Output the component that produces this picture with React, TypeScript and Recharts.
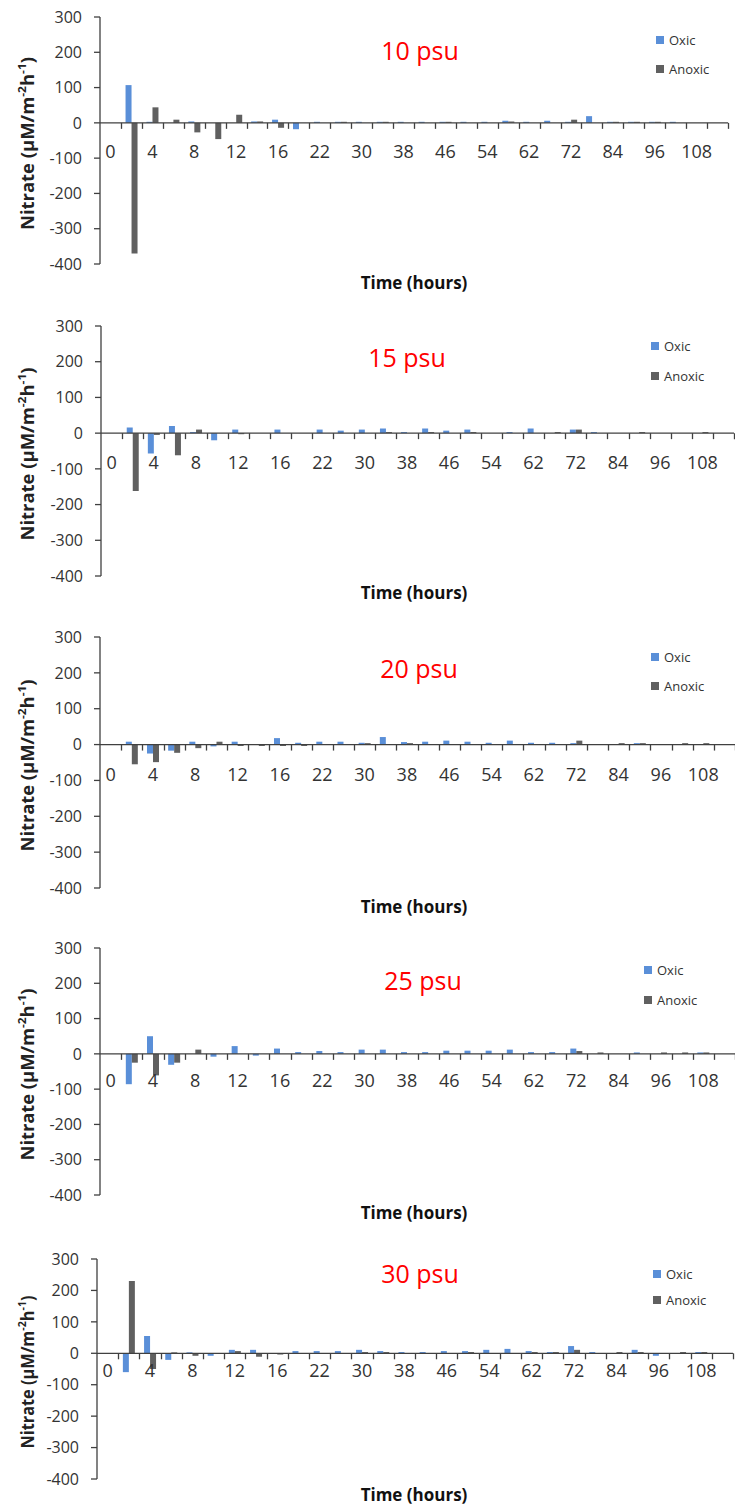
import React from "react";
import { Bar, BarChart, Legend, ReferenceLine, XAxis, YAxis } from "recharts";

// sampling times (only every other one is labelled on the axis)
const hours = [
  "0", "2", "4", "6", "8", "10", "12", "14", "16", "19", "22", "26", "30", "34", "38",
  "42", "46", "50", "54", "58", "62", "67", "72", "78", "84", "90", "96", "102", "108", "120",
];

const yTicks = [-400, -300, -200, -100, 0, 100, 200, 300];
const seriesNames = ["Oxic", "Anoxic"];

// nitrate flux, µM/m-2h-1
const oxic10 = [0, 107, 3, 0, 4, 0, 0, 4, 9, -18, 3, 3, 3, 3, 3, 3, 3, 3, 3, 6, 3, 6, 3, 19, 3, 3, 3, 3, 0, 0];
const anoxic10 = [0, -370, 44, 9, -27, -46, 23, 4, -14, 0, 0, 3, 0, 3, 0, 0, 3, 0, 0, 4, 0, 0, 9, 0, 3, 3, 3, 0, 0, 0];

const oxic15 = [0, 16, -57, 20, 3, -20, 10, 0, 10, 0, 10, 7, 10, 13, 3, 13, 7, 10, 0, 3, 13, 0, 10, 3, 0, 0, 0, 0, 0, 0];
const anoxic15 = [0, -162, -5, -62, 10, 0, -3, 0, 0, 0, 0, 0, 0, 3, 0, 3, 0, 3, 0, 0, 0, 3, 10, 0, 0, 3, 0, 0, 3, 0];

const oxic20 = [0, 8, -25, -17, 8, -5, 8, 0, 18, 5, 8, 8, 5, 21, 7, 8, 11, 8, 5, 11, 5, 5, 4, 0, 0, 4, 0, 0, 0, 0];
const anoxic20 = [0, -55, -49, -23, -10, 8, -4, -4, -4, -4, 0, 0, 4, 0, 4, 0, 0, 0, 0, 0, 0, 0, 11, 0, 4, 4, 0, 4, 4, 0];

const oxic25 = [0, -86, 50, -31, 0, -8, 22, -5, 15, 5, 8, 5, 12, 12, 5, 5, 9, 9, 9, 12, 5, 5, 15, 0, 0, 4, 0, 0, 4, 0];
const anoxic25 = [0, -25, -61, -25, 12, 0, 0, 0, 0, 0, 0, 0, 0, 0, 0, 0, 0, 0, 0, 0, 0, 0, 8, 4, 0, 0, 4, 4, 4, 0];

const oxic30 = [0, -60, 55, -21, 3, -8, 11, 11, 0, 7, 7, 7, 11, 7, 4, 4, 7, 7, 11, 14, 7, 4, 23, 4, 0, 11, -8, 0, 4, 0];
const anoxic30 = [0, 230, -50, 3, -8, 0, 7, -11, -4, 0, 0, 0, 4, 4, 0, 0, 0, 4, 0, 0, 4, 4, 11, 0, 4, 4, 0, 4, 4, 0];

const FONT = "'Open Sans', 'Liberation Sans', sans-serif";
const OXIC = "#5A8FD8";
const ANOXIC = "#606060";
const AXIS = "#404040";

const panels = [
  { title: "10 psu", oxic: oxic10, anoxic: anoxic10, top: 0, h: 305, plotTop: 17, plotH: 247, left: 100, right: 728, titleX: 420, titleY: 50, xTitleY: 282, legX: 656, legY: 40, legGap: 29, labelDy: 28, yLen: 173 },
  { title: "15 psu", oxic: oxic15, anoxic: anoxic15, top: 305, h: 310, plotTop: 21, plotH: 250, left: 101, right: 734, titleX: 407, titleY: 52, xTitleY: 287, legX: 651, legY: 41, legGap: 30, labelDy: 29, yLen: 173 },
  { title: "20 psu", oxic: oxic20, anoxic: anoxic20, top: 615, h: 310, plotTop: 22, plotH: 251, left: 100, right: 735, titleX: 419, titleY: 53, xTitleY: 291, legX: 651, legY: 42, legGap: 29, labelDy: 29, yLen: 172 },
  { title: "25 psu", oxic: oxic25, anoxic: anoxic25, top: 925, h: 310, plotTop: 23, plotH: 247, left: 100, right: 735, titleX: 423, titleY: 55, xTitleY: 287, legX: 644, legY: 45, legGap: 30, labelDy: 26, yLen: 172 },
  { title: "30 psu", oxic: oxic30, anoxic: anoxic30, top: 1235, h: 271, plotTop: 24, plotH: 220, left: 97, right: 733, titleX: 420, titleY: 38, xTitleY: 259, legX: 653, legY: 39, legGap: 26, labelDy: 17, yLen: 153 },
];

// x ticks sit on the zero line: tick marks at category boundaries, labels every second category
function TimeTick(props: any) {
  const { x, index, payload, zeroY, band, labelDy } = props;
  const tx = Math.round(x + band / 2) + 0.5;
  return (
    <g>
      <line x1={tx} x2={tx} y1={zeroY} y2={zeroY + 6} stroke={AXIS} strokeWidth={1.3} />
      {index % 2 === 0 && (
        <text x={x} y={zeroY + labelDy} textAnchor="middle" dominantBaseline="central" fontSize={18} fontFamily={FONT} fill="#333">
          {payload.value}
        </text>
      )}
    </g>
  );
}

function YTitle(props: any) {
  const { viewBox, len } = props;
  const cx = 27;
  const cy = viewBox.y + viewBox.height / 2 + 3;
  return (
    <text
      x={cx}
      y={cy}
      transform={`rotate(-90 ${cx} ${cy})`}
      textAnchor="middle"
      dominantBaseline="central"
      fontFamily={FONT}
      fontWeight={700}
      fontSize={17}
      fill="#222"
      textLength={len}
      lengthAdjust="spacingAndGlyphs"
    >
      Nitrate (µM/m<tspan dy={-6} fontSize={11}>-2</tspan>
      <tspan dy={6}>h</tspan>
      <tspan dy={-6} fontSize={11}>-1</tspan>
      <tspan dy={6}>)</tspan>
    </text>
  );
}

function LegendBox({ payload, gap }: any) {
  const items = [...(payload || [])].sort(
    (a: any, b: any) => seriesNames.indexOf(a.value) - seriesNames.indexOf(b.value)
  );
  return (
    <div>
      {items.map((p: any) => (
        <div key={p.value} style={{ height: gap, display: "flex", alignItems: "center" }}>
          <span style={{ width: 8, height: 8, background: p.color, marginRight: 5, display: "inline-block" }} />
          <span style={{ fontFamily: FONT, fontSize: 13, color: "#333" }}>{p.value}</span>
        </div>
      ))}
    </div>
  );
}

function Panel({ p }: { p: (typeof panels)[number] }) {
  const data = hours.map((hour, i) => ({ hour, oxic: p.oxic[i], anoxic: p.anoxic[i] }));
  const plotW = p.right - p.left;
  const band = plotW / hours.length;
  const zeroY = p.plotTop + (p.plotH * 300) / 700;
  const bottom = p.h - p.plotTop - p.plotH - 1;

  return (
    <div style={{ position: "absolute", left: 0, top: p.top, width: 735, height: p.h }}>
      <BarChart
        width={735}
        height={p.h}
        data={data}
        margin={{ top: p.plotTop, right: 735 - p.right, left: 0, bottom }}
        barCategoryGap="22%"
        barGap={0}
      >
        <XAxis
          dataKey="hour"
          height={1}
          axisLine={false}
          tickLine={false}
          interval={0}
          tick={<TimeTick zeroY={zeroY} band={band} labelDy={p.labelDy} />}
        />
        <YAxis
          width={p.left}
          domain={[-400, 300]}
          ticks={yTicks}
          interval={0}
          allowDataOverflow
          axisLine={{ stroke: AXIS, strokeWidth: 1.3 }}
          tickLine={{ stroke: AXIS, strokeWidth: 1.3 }}
          tickSize={6}
          tickMargin={12}
          tick={{ fontSize: 16, fontFamily: FONT, fill: "#333" }}
          label={<YTitle len={p.yLen} />}
        />
        <ReferenceLine y={0} stroke={AXIS} strokeWidth={1.3} />
        <Legend
          layout="horizontal"
          align="center"
          verticalAlign="middle"
          wrapperStyle={{ left: p.legX, top: p.legY - p.legGap / 2, width: "auto", height: "auto" }}
          content={(props: any) => <LegendBox payload={props.payload} gap={p.legGap} />}
        />
        <Bar dataKey="oxic" name={seriesNames[0]} fill={OXIC} isAnimationActive={false} />
        <Bar dataKey="anoxic" name={seriesNames[1]} fill={ANOXIC} isAnimationActive={false} />
      </BarChart>
      <div
        style={{
          position: "absolute",
          left: p.titleX,
          top: p.titleY,
          transform: "translate(-50%, -50%)",
          color: "#FF0000",
          fontFamily: FONT,
          fontSize: 25,
          whiteSpace: "nowrap",
          lineHeight: 1,
        }}
      >
        {p.title}
      </div>
      <div
        style={{
          position: "absolute",
          left: 414,
          top: p.xTitleY,
          transform: "translate(-50%, -50%)",
          color: "#111",
          fontFamily: FONT,
          fontWeight: 700,
          fontSize: 17,
          whiteSpace: "nowrap",
          lineHeight: 1,
        }}
      >
        Time (hours)
      </div>
    </div>
  );
}

export default function App() {
  return (
    <div style={{ position: "absolute", left: 0, top: 0, width: 735, height: 1506, background: "#fff", overflow: "hidden" }}>
      {panels.map((p) => (
        <Panel key={p.title} p={p} />
      ))}
    </div>
  );
}
